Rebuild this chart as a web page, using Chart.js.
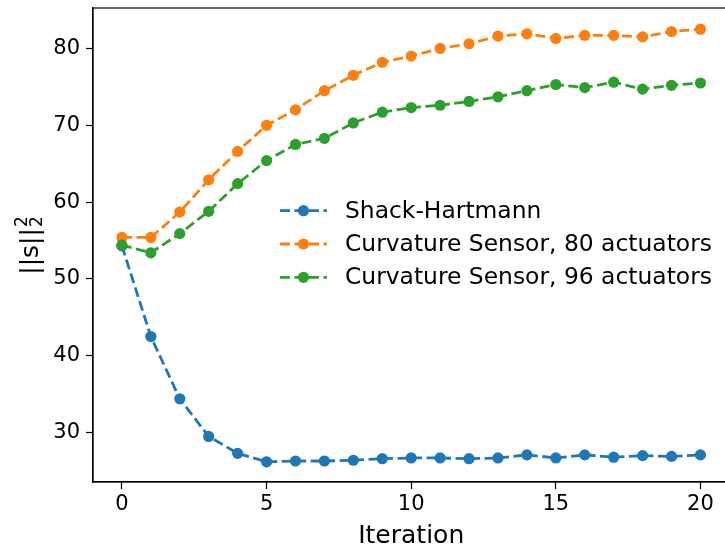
<!DOCTYPE html>
<html>
<head>
  <title>Wavefront sensor comparison</title>
  <script src="https://cdn.jsdelivr.net/npm/chart.js"></script>
  <style>
    body { margin: 0; overflow: hidden; background: #fff; }
    #wrap { width: 735px; height: 548px; position: relative; }
  </style>
</head>
<body>
  <div id="wrap"><canvas id="myChart"></canvas></div>
  <script>
    // values
    var iterations = [0, 1, 2, 3, 4, 5, 6, 7, 8, 9, 10, 11, 12, 13, 14, 15, 16, 17, 18, 19, 20];
    var shackHartmann = [54.3, 42.5, 34.4, 29.5, 27.3, 26.2, 26.3, 26.3, 26.4, 26.6, 26.7, 26.7, 26.6, 26.7, 27.1, 26.7, 27.1, 26.8, 27.0, 26.9, 27.1];
    var curv80 = [55.4, 55.4, 58.7, 62.9, 66.6, 70.0, 72.0, 74.5, 76.5, 78.2, 79.0, 80.0, 80.6, 81.6, 81.9, 81.3, 81.7, 81.7, 81.5, 82.2, 82.5];
    var curv96 = [54.4, 53.4, 55.9, 58.8, 62.4, 65.4, 67.5, 68.3, 70.3, 71.7, 72.3, 72.6, 73.1, 73.7, 74.5, 75.3, 74.9, 75.6, 74.7, 75.2, 75.5];
    var xTicks = [0, 5, 10, 15, 20];
    var yTicks = [30, 40, 50, 60, 70, 80];

    var FONT = 'DejaVu Sans';

    function pts(arr) {
      return iterations.map(function (x, i) { return { x: x, y: arr[i] }; });
    }

    function series(label, arr, color, order) {
      return {
        label: label,
        data: pts(arr),
        borderColor: color,
        backgroundColor: color,
        borderWidth: 2.8,
        borderDash: [10, 4.5],
        pointRadius: 5.6,
        pointHoverRadius: 5.6,
        pointBorderWidth: 0,
        tension: 0,
        order: order
      };
    }

    // frame, legend and axis titles drawn by hand (matplotlib look)
    var extras = {
      id: 'extras',
      afterDraw: function (chart) {
        var ctx = chart.ctx;
        var a = chart.chartArea;
        ctx.save();
        ctx.strokeStyle = '#000';
        ctx.lineWidth = 1.2;
        ctx.strokeRect(a.left, a.top, a.right - a.left, a.bottom - a.top);

        // legend
        var y0 = 210.7, dy = 33.3;
        chart.data.datasets.forEach(function (ds, i) {
          var y = y0 + i * dy;
          ctx.strokeStyle = ds.borderColor;
          ctx.lineWidth = ds.borderWidth;
          ctx.setLineDash(ds.borderDash);
          ctx.beginPath();
          ctx.moveTo(280, y);
          ctx.lineTo(327, y);
          ctx.stroke();
          ctx.setLineDash([]);
          ctx.fillStyle = ds.borderColor;
          ctx.beginPath();
          ctx.arc(303.5, y, 5.6, 0, Math.PI * 2);
          ctx.fill();
          ctx.fillStyle = '#000';
          ctx.font = '23.4px "' + FONT + '"';
          ctx.textBaseline = 'middle';
          ctx.textAlign = 'left';
          ctx.fillText(ds.label, 345, y + 1);
        });

        // x title
        ctx.font = '25px "' + FONT + '"';
        ctx.textAlign = 'center';
        ctx.textBaseline = 'alphabetic';
        ctx.fillText('Iteration', (a.left + a.right) / 2, 543);

        // y title ||s||_2^2
        ctx.translate(38, 246);
        ctx.rotate(-Math.PI / 2);
        ctx.font = '25px "' + FONT + '"';
        var main = '||s||';
        var w = ctx.measureText(main).width;
        ctx.font = '17px "' + FONT + '"';
        var w2 = ctx.measureText('2').width;
        var total = w + w2;
        ctx.textAlign = 'left';
        ctx.font = '25px "' + FONT + '"';
        ctx.fillText(main, -total / 2, 0);
        ctx.font = '17px "' + FONT + '"';
        ctx.fillText('2', -total / 2 + w + 1, -11);
        ctx.fillText('2', -total / 2 + w + 1, 4);
        ctx.restore();
      }
    };

    var ctx = document.getElementById('myChart').getContext('2d');
    var myChart = new Chart(ctx, {
      type: 'line',
      data: {
        datasets: [
          series('Shack-Hartmann', shackHartmann, '#1f77b4', 2),
          series('Curvature Sensor, 80 actuators', curv80, '#ff7f0e', 1),
          series('Curvature Sensor, 96 actuators', curv96, '#2ca02c', 0)
        ]
      },
      options: {
        responsive: true,
        maintainAspectRatio: false,
        animation: false,
        events: [],
        layout: { padding: { top: 8, right: 4, left: 0, bottom: 0 } },
        plugins: {
          legend: { display: false },
          tooltip: { enabled: false }
        },
        scales: {
          x: {
            type: 'linear',
            min: -1,
            max: 21,
            afterBuildTicks: function (scale) {
              scale.ticks = xTicks.map(function (v) { return { value: v }; });
            },
            afterFit: function (scale) {
              scale.height = 66;
              scale.paddingLeft = 0;
              scale.paddingRight = 0;
            },
            grid: { display: true, drawOnChartArea: false, drawTicks: true, tickLength: 7, tickWidth: 1.2, tickColor: '#000' },
            border: { display: true, color: '#000', width: 1.2 },
            ticks: { color: '#000', padding: 3, maxRotation: 0, font: { family: FONT, size: 21 } }
          },
          y: {
            type: 'linear',
            min: 23.57,
            max: 85.26,
            afterBuildTicks: function (scale) {
              scale.ticks = yTicks.map(function (v) { return { value: v }; });
            },
            afterFit: function (scale) {
              scale.width = 93;
              scale.paddingTop = 0;
              scale.paddingBottom = 0;
            },
            grid: { display: true, drawOnChartArea: false, drawTicks: true, tickLength: 7, tickWidth: 1.2, tickColor: '#000' },
            border: { display: true, color: '#000', width: 1.2 },
            ticks: { color: '#000', padding: 6, font: { family: FONT, size: 21 } }
          }
        }
      },
      plugins: [extras]
    });
  </script>
</body>
</html>
